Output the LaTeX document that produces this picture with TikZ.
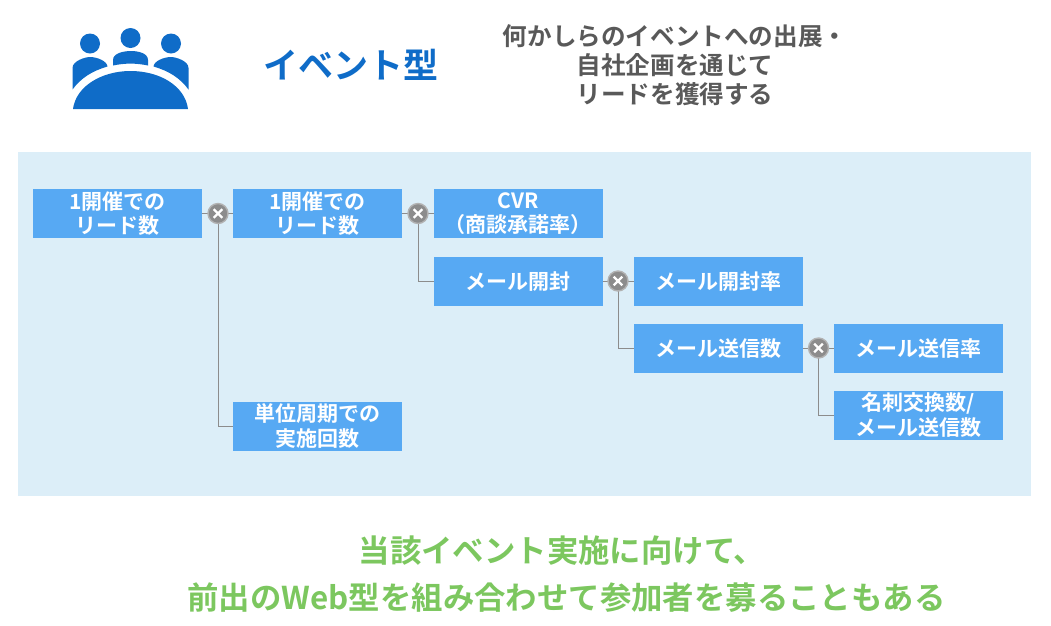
\documentclass[tikz,border=0pt]{standalone}
\usepackage{fontspec}
\setmainfont{Noto Sans CJK JP}[BoldFont={* Bold}]
\definecolor{boxblue}{HTML}{57A9F3}
\definecolor{panelblue}{HTML}{DCEEF8}
\definecolor{iconblue}{HTML}{0F6CC8}
\definecolor{titlegray}{HTML}{595959}
\definecolor{noteGreen}{HTML}{7CC75F}
\definecolor{linegray}{HTML}{8C8C8C}
\tikzset{
  mbox/.style={fill=boxblue,text=white,minimum width=168.5pt,minimum height=49pt,inner sep=0pt,align=center,font=\fontsize{21}{24.5}\selectfont\bfseries,anchor=north west},
  times/.style={circle,fill=linegray,draw=black!30,line width=1.4pt,minimum size=20pt,inner sep=0pt},
  conn/.style={draw=linegray,line width=1pt},
  xmark/.style={draw=white,line width=2.2pt},
  icon/.style={fill=iconblue,draw=none},
}
\newcommand{\xnode}[2]{%
  \node[times] (#1) at (#2) {};
  \draw[xmark] ([shift={(-4.3pt,-4.3pt)}]#1.center) -- ([shift={(4.3pt,4.3pt)}]#1.center);
  \draw[xmark] ([shift={(-4.3pt,4.3pt)}]#1.center) -- ([shift={(4.3pt,-4.3pt)}]#1.center);
}
\begin{document}
\begin{tikzpicture}[x=1pt,y=-1pt]
\useasboundingbox (0,0) rectangle (1051,625);
\fill[panelblue] (18,151.5) rectangle (1031,496);
% icon
\fill[icon] (90,43.5) circle (10);
\fill[icon] (130.5,38) circle (10);
\fill[icon] (171,43.5) circle (10);
\fill[icon] (72.5,89.5) -- (72.5,68) .. controls (72.5,61) and (85,57) .. (90,57) .. controls (97,57) and (107,61) .. (107.5,66.5) .. controls (92,71) and (81,78) .. (72.5,89.5) -- cycle;
\fill[icon] (113,65.5) -- (113,60) .. controls (113,53) and (124,51) .. (131,51) .. controls (138,51) and (148,53) .. (148,60) -- (148,65.5) .. controls (136,63) and (125,63) .. (113,65.5) -- cycle;
\fill[icon] (188.5,89.5) -- (188.5,68) .. controls (188.5,61) and (176,57) .. (171,57) .. controls (164,57) and (154,61) .. (153.5,66.5) .. controls (169,71) and (180,78) .. (188.5,89.5) -- cycle;
\fill[icon] (73,109) .. controls (76,86) and (102,71) .. (130.5,71) .. controls (160,71) and (185,86) .. (188,109) -- cycle;
% titles
\node[text=iconblue,font=\fontsize{35}{42}\selectfont\bfseries] (title) at (351,65) {イベント型};
\node[text=titlegray,font=\fontsize{24.6}{29}\selectfont\bfseries,align=center] (lead) at (675,65.5) {何かしらのイベントへの出展・\\自社企画を通じて\\リードを獲得する};
% boxes
\node[mbox] (a) at (33,189) {1開催での\\リード数};
\node[mbox] (b) at (233,189) {1開催での\\リード数};
\node[mbox] (c) at (434,189) {CVR\\（商談承諾率）};
\node[mbox] (d) at (434,256.5) {メール開封};
\node[mbox] (e) at (634,256.5) {メール開封率};
\node[mbox] (f) at (634,323.5) {メール送信数};
\node[mbox] (g) at (834,323.5) {メール送信率};
\node[mbox] (h) at (834,390.5) {名刺交換数/\\メール送信数};
\node[mbox] (i) at (233,401.5) {単位周期での\\実施回数};
% connectors and operators
\coordinate (x1pos) at (218,213.5);
\coordinate (x2pos) at (418,213.5);
\coordinate (x3pos) at (618,281);
\coordinate (x4pos) at (818.5,348);
\path[conn] (a.east) -- (b.west);
\path[conn] (b.east) -- (c.west);
\path[conn] (d.east) -- (e.west);
\path[conn] (f.east) -- (g.west);
\path[conn] (x1pos) |- (i.west);
\path[conn] (x2pos) |- (d.west);
\path[conn] (x3pos) |- (f.west);
\path[conn] (x4pos) |- (h.west);
\xnode{x1}{x1pos}
\xnode{x2}{x2pos}
\xnode{x3}{x3pos}
\xnode{x4}{x4pos}
% footer
\node[text=noteGreen,font=\fontsize{31.4}{36}\selectfont\bfseries] (n1) at (562,551) {当該イベント実施に向けて、};
\node[text=noteGreen,font=\fontsize{31.4}{36}\selectfont\bfseries] (n2) at (566.5,598) {前出のWeb型を組み合わせて参加者を募ることもある};
\end{tikzpicture}
\end{document}
